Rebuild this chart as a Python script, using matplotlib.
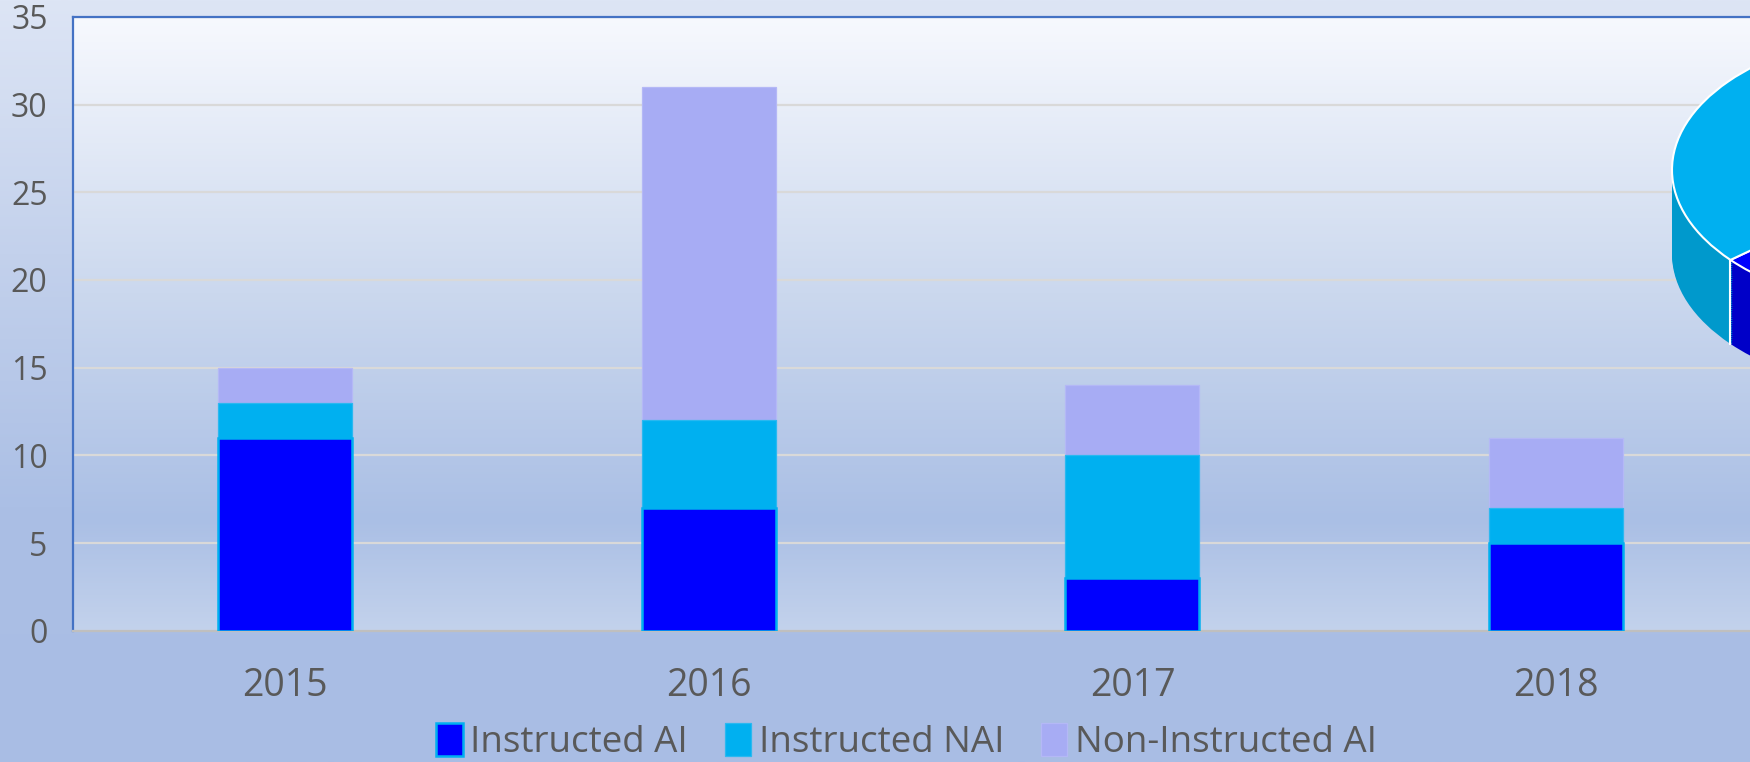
import matplotlib.pyplot as plt
import numpy as np
from matplotlib.colors import LinearSegmentedColormap

plt.rcParams['font.family'] = ['Open Sans', 'DejaVu Sans']

years = ['2015', '2016', '2017', '2018']
instructed_ai = [11, 7, 3, 5]
instructed_nai = [2, 5, 7, 2]
non_instructed_ai = [2, 19, 4, 4]

series_names = ['Instructed AI', 'Instructed NAI', 'Non-Instructed AI']
colors = ['#0000ff', '#00b0f0', '#a7acf4']
side_colors = ['#0000c8', '#0099cc', '#8c90d0']

# pie that sticks out on the right edge, shares guessed from the visible part
pie_values = [30, 44, 26]   # Instructed AI, Instructed NAI, Non-Instructed AI
pie_order = [0, 2, 1]


def build(pie_side=True, fancy_legend=True, bar_edges=True):
    fig = plt.figure(figsize=(17.5, 7.62), dpi=100)

    # background gradient of the whole figure
    bg = fig.add_axes([0, 0, 1, 1], zorder=-10)
    bg_cmap = LinearSegmentedColormap.from_list('bg', ['#dde5f5', '#c3d1ec', '#abbfe5', '#a9bde4'])
    bg.imshow(np.linspace(0, 1, 256).reshape(-1, 1), cmap=bg_cmap, aspect='auto', extent=[0, 1, 0, 1])
    bg.axis('off')

    ax = fig.add_axes([0.0415, 0.172, 0.969, 0.806])
    ax.set_facecolor('none')
    pa_cmap = LinearSegmentedColormap.from_list('pa', [(0, '#f7f9fe'), (0.45, '#cbd8ee'),
                                                        (0.82, '#aabfe5'), (1, '#c3d2ec')])
    ax.imshow(np.linspace(0, 1, 256).reshape(-1, 1), cmap=pa_cmap, aspect='auto',
              extent=[-0.5, 3.5, 0, 35], zorder=0)

    x = np.arange(len(years))
    w = 0.316
    lw = 1.8 if bar_edges else 0
    ax.bar(x, instructed_ai, w, color=colors[0], edgecolor='#00b0f0', linewidth=lw,
           label=series_names[0], zorder=3)
    ax.bar(x, instructed_nai, w, bottom=instructed_ai, color=colors[1], edgecolor='#2ab8f0',
           linewidth=lw / 2, label=series_names[1], zorder=2.9)
    bottom2 = np.array(instructed_ai) + np.array(instructed_nai)
    ax.bar(x, non_instructed_ai, w, bottom=bottom2, color=colors[2], edgecolor='#b4b8f6',
           linewidth=lw / 2, label=series_names[2], zorder=2.8)

    ax.set_xlim(-0.5, 3.5)
    ax.set_ylim(0, 35)
    ax.set_yticks(range(0, 36, 5))
    ax.set_xticks(x)
    ax.set_xticklabels(years)
    ax.grid(axis='y', color='#d9d9d9', linewidth=1.6, zorder=1)
    ax.tick_params(axis='y', length=0, pad=18, labelsize=23, labelcolor='#595959')
    ax.tick_params(axis='x', length=0, pad=26, labelsize=27, labelcolor='#595959')
    for s in ['left', 'top']:
        ax.spines[s].set_color('#4472c4')
        ax.spines[s].set_linewidth(1.6)
    ax.spines['bottom'].set_color('#bfbfbf')
    ax.spines['bottom'].set_linewidth(1.6)

    if fancy_legend:
        fig.legend(loc='center', bbox_to_anchor=(0.518, 0.026), ncol=3, frameon=False,
                   fontsize=26.5, labelcolor='#595959', handlelength=0.72, handleheight=1.0,
                   handletextpad=0.2, columnspacing=1.0, borderaxespad=0)
    else:
        fig.legend(loc='center', bbox_to_anchor=(0.518, 0.026), ncol=3, frameon=False,
                   fontsize=26.5, labelcolor='#595959')

    # 3D-looking pie, cut off by the right edge
    pax = fig.add_axes([1662 / 1750, 1 - 405 / 762, 520 / 1750, 385 / 762], zorder=5)
    vals = [pie_values[i] for i in pie_order]
    top_c = [colors[i] for i in pie_order]
    side_c = [side_colors[i] for i in pie_order]
    depth = 0.6
    if pie_side:
        for off in np.linspace(-depth, 0, 40):
            pax.pie(vals, colors=side_c, startangle=220, center=(0, off), radius=1,
                    wedgeprops=dict(linewidth=0))
        a = np.deg2rad(220)
        pax.plot([np.cos(a), np.cos(a)], [np.sin(a) - depth, np.sin(a)], color='white', lw=1.5)
    pax.pie(vals, colors=top_c, startangle=220, radius=1,
            wedgeprops=dict(edgecolor='white', linewidth=1.5))
    pax.set_aspect('auto')
    pax.set_xlim(-1.04, 1.04)
    pax.set_ylim(-1.679, 1.071)
    pax.axis('off')
    return fig


def spine_ok(fig):
    # left spine should sit at ~73 px; check row 300 of the rendered picture
    fig.canvas.draw()
    row = np.asarray(fig.canvas.buffer_rgba())[300, :200, :3].astype(int)
    hits = np.where(np.abs(row - np.array([68, 114, 196])).sum(axis=1) < 60)[0]
    return len(hits) > 0 and 68 <= hits.min() <= 76


variants = [dict(), dict(pie_side=False), dict(fancy_legend=False), dict(bar_edges=False),
            dict(pie_side=False, fancy_legend=False, bar_edges=False)]
fig = None
for opts in variants:
    fig = build(**opts)
    if spine_ok(fig):
        break
    plt.close(fig)
    fig = None
if fig is None:
    fig = build()

fig.savefig('out.png', dpi=100)
